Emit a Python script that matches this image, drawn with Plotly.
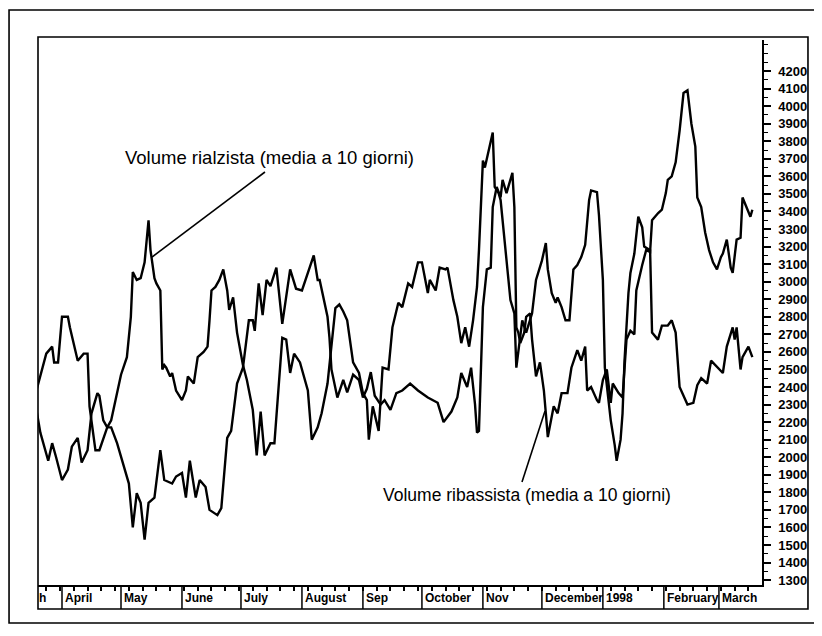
import pandas as pd
import plotly.graph_objects as go

START = pd.Timestamp("1997-03-19")

# Volume rialzista (media a 10 giorni): days since START, value
bull_days = [0, 2, 6, 8, 10, 13, 16, 18, 21, 23, 26, 28, 31, 32, 34, 36, 38, 41, 43, 46, 47, 48, 49, 51, 53, 55, 57, 58, 60, 61, 63, 64, 65, 66, 68, 69, 71, 74, 76, 77, 80, 82, 85, 87, 88, 89, 91, 93, 95, 96, 97, 98, 100, 102, 105, 107, 110, 112, 114, 116, 119, 121, 124, 125, 127, 129, 131, 134, 138, 140, 143, 145, 148, 150, 152, 154, 156, 158, 161, 164, 166, 168, 169, 171, 174, 176, 179, 181, 184, 186, 189, 191, 194, 196, 199, 200, 203, 205, 208, 209, 212, 214, 216, 218, 220, 222, 224, 225, 227, 228, 230, 232, 233, 235, 236, 237, 239, 241, 243, 244, 247, 249, 252, 254, 257, 259, 260, 262, 264, 265, 267, 269, 271, 273, 275, 277, 279, 281, 282, 285, 286, 288, 289, 292, 294, 295, 297, 298, 299, 301, 302, 304, 306, 308, 309, 312, 313, 316, 318, 321, 323, 325, 327, 331, 334, 336, 338, 341, 343, 349, 351, 354, 355, 356, 358, 359, 362, 364]
bull_vals = [2270, 2140, 1980, 2080, 2000, 1870, 1930, 2060, 2110, 1970, 2040, 2250, 2365, 2350, 2210, 2170, 2210, 2365, 2470, 2570, 2670, 2800, 3055, 3010, 3020, 3110, 3350, 3180, 3020, 2990, 2950, 2500, 2525, 2510, 2460, 2480, 2380, 2325, 2380, 2460, 2420, 2570, 2600, 2630, 2780, 2950, 2970, 3010, 3070, 3010, 2950, 2840, 2910, 2710, 2525, 2440, 2270, 2010, 2260, 2010, 2080, 2080, 2540, 2680, 2670, 2480, 2590, 2540, 2380, 2100, 2170, 2250, 2420, 2630, 2850, 2870, 2830, 2780, 2540, 2480, 2365, 2325, 2100, 2290, 2150, 2510, 2500, 2740, 2880, 2855, 2990, 2970, 3110, 3110, 2935, 3010, 2950, 3080, 3070, 3080, 2895, 2800, 2650, 2740, 2630, 2780, 2970, 3180, 3690, 3650, 3750, 3850, 3540, 3505, 3465, 3350, 3160, 2895, 2820, 2510, 2780, 2710, 2820, 3010, 3120, 3220, 3070, 2935, 2880, 2910, 2855, 2780, 2780, 3070, 3095, 3140, 3210, 3465, 3520, 3510, 3380, 3010, 2510, 2210, 2070, 1980, 2100, 2250, 2550, 2935, 3050, 3160, 3370, 3310, 3200, 3180, 2710, 2670, 2750, 2750, 2780, 2710, 2400, 2300, 2310, 2410, 2450, 2420, 2550, 2480, 2630, 2740, 2670, 2740, 2500, 2570, 2630, 2570]

# Volume ribassista (media a 10 giorni): days since START, value
bear_days = [0, 3, 5, 8, 9, 11, 13, 16, 17, 21, 24, 26, 27, 30, 32, 36, 38, 41, 44, 47, 49, 51, 53, 55, 57, 60, 63, 65, 69, 71, 74, 76, 78, 81, 83, 86, 88, 92, 94, 97, 99, 102, 105, 108, 110, 111, 113, 115, 117, 119, 122, 123, 125, 129, 132, 135, 138, 141, 143, 144, 148, 149, 150, 151, 153, 156, 158, 161, 164, 166, 168, 170, 172, 175, 177, 180, 183, 186, 190, 194, 199, 204, 207, 211, 214, 216, 219, 221, 223, 224, 225, 227, 229, 231, 232, 234, 236, 237, 239, 242, 243, 244, 245, 246, 248, 249, 251, 252, 254, 256, 258, 259, 260, 263, 265, 267, 270, 272, 275, 277, 279, 280, 282, 285, 286, 288, 290, 292, 293, 296, 298, 300, 302, 304, 305, 308, 310, 312, 313, 316, 318, 320, 321, 323, 325, 327, 329, 331, 333, 335, 336, 338, 340, 342, 344, 346, 348, 349, 351, 353, 354, 356, 358, 359, 361, 363, 364]
bear_vals = [2380, 2500, 2590, 2630, 2540, 2540, 2800, 2800, 2740, 2550, 2590, 2590, 2290, 2040, 2040, 2170, 2170, 2080, 1970, 1850, 1600, 1795, 1740, 1530, 1740, 1770, 2040, 1870, 1850, 1890, 1910, 1770, 1980, 1770, 1870, 1830, 1700, 1670, 1710, 2110, 2150, 2420, 2510, 2780, 2780, 2720, 2990, 2810, 3010, 2975, 3080, 2970, 2760, 3070, 2960, 2950, 3050, 3150, 3010, 3010, 2800, 2680, 2500, 2440, 2340, 2440, 2370, 2470, 2440, 2340, 2390, 2485, 2350, 2300, 2325, 2270, 2365, 2380, 2420, 2380, 2340, 2310, 2200, 2260, 2340, 2480, 2400, 2510, 2300, 2140, 2150, 2855, 3070, 3080, 3425, 3540, 3480, 3580, 3505, 3620, 3425, 2740, 2710, 2650, 2710, 2800, 2820, 2670, 2460, 2540, 2380, 2250, 2115, 2290, 2250, 2365, 2365, 2510, 2610, 2550, 2630, 2380, 2400, 2325, 2310, 2440, 2500, 2310, 2420, 2365, 2340, 2670, 2720, 2700, 2950, 3095, 3180, 3170, 3350, 3390, 3410, 3505, 3580, 3600, 3680, 3860, 4075, 4090, 3900, 3770, 3480, 3425, 3280, 3180, 3110, 3070, 3140, 3160, 3240, 3080, 3050, 3240, 3250, 3480, 3425, 3370, 3410]

month_starts = ["1997-04-01", "1997-05-01", "1997-06-01", "1997-07-01", "1997-08-01",
                "1997-09-01", "1997-10-01", "1997-11-01", "1997-12-01", "1998-01-01",
                "1998-02-01", "1998-03-01"]
month_labels = ["April", "May", "June", "July", "August", "Sep", "October", "Nov",
                "December", "1998", "February", "March"]
y_tick_vals = list(range(1300, 4201, 100))

label_bull = "Volume rialzista (media a 10 giorni)"
label_bear = "Volume ribassista (media a 10 giorni)"

bull_x = START + pd.to_timedelta(bull_days, unit="D")
bear_x = START + pd.to_timedelta(bear_days, unit="D")

LINE = dict(color="black", width=2.4)
fig = go.Figure()
fig.add_trace(go.Scatter(x=bull_x, y=bull_vals, mode="lines", line=LINE, name=label_bull))
fig.add_trace(go.Scatter(x=bear_x, y=bear_vals, mode="lines", line=LINE, name=label_bear))

TXT = "Liberation Sans, Arial, Helvetica, sans-serif"
BOLD = "Liberation Sans, Arial, sans-serif"

x_lo = START + pd.Timedelta(days=0.8)
x_hi = START + pd.Timedelta(days=368.9)

# the page body adds an 8px offset, so the figure is 8px smaller and margins shifted
fig.update_layout(
    width=814, height=628,
    margin=dict(l=30, r=60, t=32, b=51),
    paper_bgcolor="white", plot_bgcolor="white",
    showlegend=False,
    font=dict(family=TXT, color="black"),
    xaxis=dict(
        type="date", range=[x_lo, x_hi], showgrid=False, zeroline=False,
        showline=True, linecolor="black", linewidth=1.5,
        ticks="outside", ticklen=4, tickwidth=1.5, tickcolor="black",
        tick0="1997-03-24", dtick=7 * 86400000, showticklabels=False,
    ),
    yaxis=dict(
        side="right", range=[1272, 4377], showgrid=False, zeroline=False,
        showline=True, linecolor="black", linewidth=1.5,
        tickmode="array", tickvals=y_tick_vals,
        ticks="outside", ticklen=7, tickwidth=1.5, tickcolor="black",
        ticklabelstandoff=5,
        tickfont=dict(family=BOLD, size=13, color="black", weight="bold"),
        minor=dict(ticks="outside", ticklen=4, tickwidth=1.2, tickcolor="black", dtick=50),
    ),
)

shapes = []
# inner frame (plot + axis labels)
shapes.append(dict(type="rect", xref="paper", yref="paper", x0=0, x1=1.0635, y0=-0.044, y1=1.0055,
                   line=dict(color="black", width=1.6)))
# outer frame
shapes.append(dict(type="rect", xref="paper", yref="paper", x0=-0.0400, x1=1.094, y0=-0.0697, y1=1.055,
                   line=dict(color="black", width=1.6)))
# month separators in the label band
for m in month_starts:
    shapes.append(dict(type="line", xref="x", yref="paper", x0=m, x1=m, y0=0, y1=-0.044,
                       line=dict(color="black", width=1.5)))
# leader lines
shapes.append(dict(type="line", xref="paper", yref="paper", x0=0.3135, y0=0.7578, x1=0.1575, y1=0.6018,
                   line=dict(color="black", width=1.6)))
shapes.append(dict(type="line", xref="paper", yref="paper", x0=0.6685, y0=0.1890, x1=0.7003, y1=0.3193,
                   line=dict(color="black", width=1.6)))
fig.update_layout(shapes=shapes)

ann = []
MFONT = dict(family=BOLD, size=12, color="black", weight="bold")
ann.append(dict(x=x_lo, xref="x", y=-0.024, yref="paper", text="h", showarrow=False,
                xanchor="left", yanchor="middle", font=MFONT, xshift=-1))
for m, lab in zip(month_starts, month_labels):
    ann.append(dict(x=m, xref="x", y=-0.024, yref="paper", text=lab, showarrow=False,
                    xanchor="left", yanchor="middle", font=MFONT, xshift=1))
ann.append(dict(x=0.3204, y=0.7835, xref="paper", yref="paper", text=label_bull, showarrow=False,
                xanchor="center", yanchor="middle", font=dict(family=TXT, size=18.5, color="black")))
ann.append(dict(x=0.6754, y=0.1651, xref="paper", yref="paper", text=label_bear, showarrow=False,
                xanchor="center", yanchor="middle", font=dict(family=TXT, size=17.5, color="black")))
fig.update_layout(annotations=ann)

fig.write_html("out.html")
